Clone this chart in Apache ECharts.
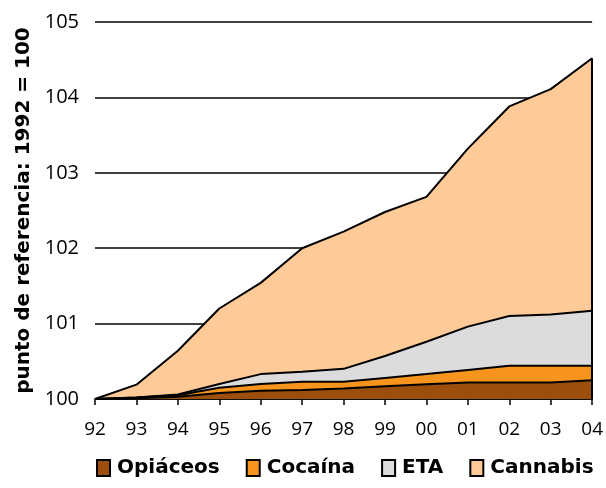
<!DOCTYPE html>
<html>
<head>
<meta charset="utf-8">
<script src="https://cdn.jsdelivr.net/npm/echarts@6/dist/echarts.min.js"></script>
<style>
  html, body { margin: 0; padding: 0; background: #fff; }
  #chart { width: 606px; height: 488px; }
</style>
</head>
<body>
<div id="chart"></div>
<script>
// years, index 1992 = 100
const years = ['92', '93', '94', '95', '96', '97', '98', '99', '00', '01', '02', '03', '04'];
const base = 100;

// contribution of each substance above the base (stacked)
const opiaceos = [0, 0.01, 0.03, 0.08, 0.11, 0.12, 0.14, 0.17, 0.195, 0.22, 0.22, 0.22, 0.25];
const cocaina  = [0, 0.01, 0.02, 0.07, 0.09, 0.11, 0.09, 0.11, 0.135, 0.165, 0.22, 0.22, 0.19];
const eta      = [0, 0.00, 0.01, 0.05, 0.13, 0.13, 0.17, 0.29, 0.43, 0.575, 0.66, 0.68, 0.73];
const cannabis = [0, 0.17, 0.58, 1.00, 1.21, 1.64, 1.82, 1.91, 1.92, 2.36, 2.78, 2.99, 3.35];

const font = '"Open Sans", "DejaVu Sans", sans-serif';
const boldFont = '"DejaVu Sans", sans-serif';

function areaSeries(name, data, color) {
  return {
    name: name,
    type: 'line',
    stack: 'total',
    data: data,
    symbol: 'none',
    lineStyle: { color: '#000', width: 2 },
    itemStyle: { color: color, borderColor: '#000', borderWidth: 1 },
    areaStyle: { color: color, opacity: 1 }
  };
}

// closing edge at the last year
const last = years.length - 1;
const topLast = base + opiaceos[last] + cocaina[last] + eta[last] + cannabis[last];

const chart = echarts.init(document.getElementById('chart'));
chart.setOption({
  animation: false,
  textStyle: { fontFamily: font },
  grid: { left: 95, right: 12, top: 22, bottom: 89 },
  legend: {
    bottom: 5,
    left: 91,
    itemWidth: 13,
    itemHeight: 16,
    itemGap: 26,
    data: ['Opiáceos', 'Cocaína', 'ETA', 'Cannabis'],
    textStyle: { fontSize: 20, fontWeight: 'bold', color: '#000', fontFamily: boldFont, padding: [0, 0, 0, 2] },
    icon: 'rect'
  },
  xAxis: {
    type: 'category',
    data: years,
    boundaryGap: false,
    axisLine: { lineStyle: { color: '#000', width: 1.5 } },
    axisTick: { show: true, length: 6, lineStyle: { color: '#000', width: 1.5 } },
    axisLabel: { color: '#000', fontSize: 19, margin: 21 }
  },
  yAxis: {
    type: 'value',
    min: 100,
    max: 105,
    interval: 1,
    name: 'punto de referencia: 1992 = 100',
    nameLocation: 'middle',
    nameGap: 58,
    nameTextStyle: { fontSize: 20, fontWeight: 'bold', color: '#000', fontFamily: boldFont },
    axisLine: { show: false },
    axisTick: { show: false },
    axisLabel: { color: '#000', fontSize: 20, margin: 16 },
    splitLine: { lineStyle: { color: '#000', width: 1.5 } }
  },
  series: [
    {
      name: 'base',
      type: 'line',
      stack: 'total',
      data: years.map(() => base),
      symbol: 'none',
      lineStyle: { opacity: 0 },
      silent: true
    },
    areaSeries('Opiáceos', opiaceos, '#9C4F0C'),
    areaSeries('Cocaína', cocaina, '#F7941E'),
    areaSeries('ETA', eta, '#DCDCDC'),
    Object.assign(areaSeries('Cannabis', cannabis, '#FECB98'), {
      markLine: {
        silent: true,
        symbol: 'none',
        label: { show: false },
        lineStyle: { color: '#000', width: 2, type: 'solid' },
        data: [[{ coord: [years[last], base] }, { coord: [years[last], topLast] }]]
      }
    })
  ]
});
</script>
</body>
</html>
